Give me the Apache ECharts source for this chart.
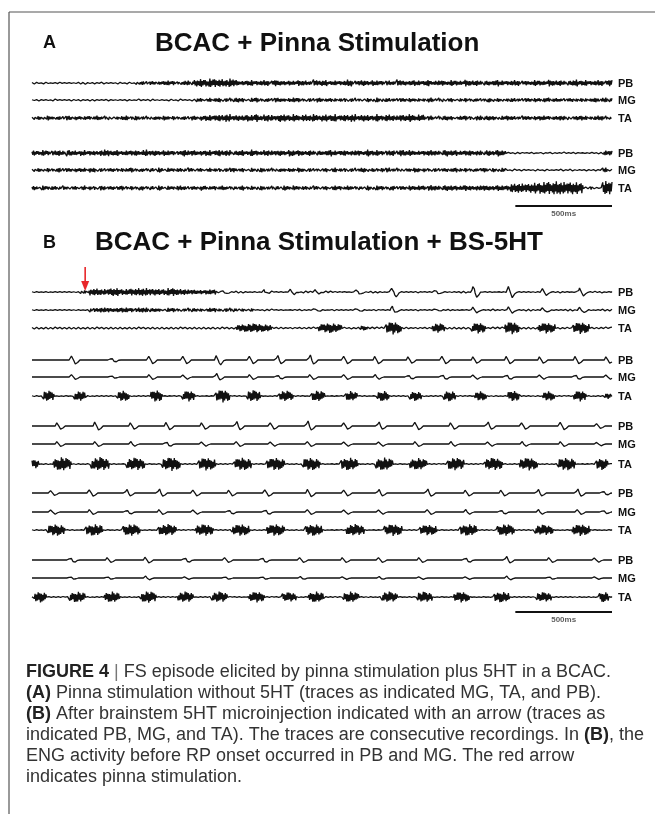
<!DOCTYPE html>
<html>
<head>
<meta charset="utf-8">
<script src="https://cdn.jsdelivr.net/npm/echarts/dist/echarts.min.js"></script>
<style>
  html, body { margin: 0; padding: 0; background: #fff; }
  #chart { width: 655px; height: 814px; }
</style>
</head>
<body>
<div id="chart"></div>
<script>
// ---------------------------------------------------------------------------
// Recording window (ms) shared by all nerve traces, scale bar and stimulus time
// ---------------------------------------------------------------------------
const TIME_MAX = 3000;
const SCALE_BAR_MS = 500;
const STIM_ARROW_MS = 275;

// ---------------------------------------------------------------------------
// Panel A: ENG envelope per time bin (one base-36 character per bin,
// amplitude in half-pixel units). Bin width = TIME_MAX / string length.
// ---------------------------------------------------------------------------
const A1_PB = "2121121112312121121213" + "43434543454" + "787988797" +
  "4564564754546547564545745646545475465474564654756454754564546547564575645647".slice(0, 78);
const A1_MG = "1211211121212112111211212111212112" + "43435344543453435434543435" +
  "343343433435343343433353434334343353433433434353433434335354";
const A1_TA = "34353435343435343345353434353434353" +
  "5657685657685765876857685768576857658576576857" +
  "453454345435454345435434543454345434543";
const A2_PB = "5464564754645467564556475646544756456475645647546556475646454754645647" +
  "5645647564456547564564546475" + "21211212121121211212" + "55";
const A2_MG = "3434353434435343434353434353434353434343453434353434343534334353434353434534343" +
  "5343434353434353434" + "12121121211212112121" + "52";
const A2_TA = "43534353435343534353435343534354343534353435343534435353435343543534353543534354" +
  "5465465546545654655" + "9a99abcdcedcdcb" + "2321" + "ee";

// ---------------------------------------------------------------------------
// Panel B: background ENG envelopes (50 ms bins)
// ---------------------------------------------------------------------------
const B1_PB = "111113" + "7686787686" + "545" + "21211211121211112111211112111121111211121";
const B1_MG = "111111" + "45454543434343433" + "1211211121112111211121112111211121112";
const B1_TA = "222222222222222222222222222222222222222222222222222222222222";
const B_PB_QUIET = "000000000000000000000000000000000000000000000000000000000000";
const B_MG_QUIET = "000000000000000000000000000000000000000000000000000000000000";
const B_TA_QUIET = "111111111111111111111111111111111111111111111111111111111111";

// Slow biphasic deflections on PB / MG: [time ms, amplitude]
const B1_PB_SPIKES = [[981,4],[1194,3],[1329,5],[1458,4],[1671,6],[1858,10],[2081,5],[2278,12],[2460,12],[2637,8],[2829,9]];
const B1_MG_SPIKES = [[1458,3],[1671,3],[1858,7],[2081,3],[2278,6],[2460,7],[2637,5],[2829,6]];
const B2_PB_SPIKES = [[202,10],[405,5],[602,9],[778,9],[950,11],[1121,9],[1266,9],[1432,10],[1609,9],[1770,9],[1941,8],[2118,9],[2278,8],[2450,9],[2621,8],[2803,9],[2964,8]];
const B2_MG_SPIKES = [[202,6],[405,3],[602,6],[778,5],[950,7],[1121,6],[1266,5],[1432,6],[1609,6],[1770,5],[1941,5],[2118,6],[2278,5],[2450,6],[2621,5],[2803,6],[2964,5]];
const B3_PB_SPIKES = [[125,8],[322,10],[503,8],[690,9],[872,8],[1054,9],[1230,8],[1422,10],[1609,8],[1790,8],[1977,9],[2159,8],[2351,8],[2527,8],[2730,9],[2917,6]];
const B3_MG_SPIKES = [[125,6],[322,6],[503,5],[690,6],[872,5],[1054,6],[1230,5],[1422,6],[1609,5],[1790,5],[1977,6],[2159,5],[2351,5],[2527,5],[2730,6],[2917,4]];
const B4_PB_SPIKES = [[93,6],[291,8],[483,7],[654,8],[830,7],[1012,7],[1199,8],[1422,9],[1609,7],[1790,7],[2040,8],[2237,7],[2419,7],[2611,7],[2818,8],[2948,5]];
const B4_MG_SPIKES = [[93,5],[291,6],[483,5],[654,6],[830,5],[1012,5],[1199,6],[1422,6],[1609,5],[1790,5],[2040,6],[2237,5],[2419,5],[2611,5],[2818,6],[2948,4]];
const B5_PB_SPIKES = [[192,6],[384,6],[581,7],[784,6],[991,6],[1183,6],[1381,6],[1599,6],[1790,6],[1998,6],[2237,6],[2450,7],[2668,6],[2906,5]];
const B5_MG_SPIKES = [[192,3],[384,3],[581,4],[784,3],[991,3],[1183,3],[1381,3],[1599,3],[1790,3],[1998,3],[2237,3],[2450,4],[2668,3],[2906,3]];

// TA bursts: [centre ms, amplitude, half-width ms]
const B1_TA_BURSTS = [[1147,9,90],[1541,10,60],[1713,5,20],[1868,13,40],[2102,10,30],[2310,11,36],[2481,13,36],[2662,11,42],[2839,12,42]];
const B2_TA_BURSTS = [[83,11,30],[249,10,30],[472,11,30],[644,12,30],[810,11,30],[986,13,35],[1147,12,35],[1313,11,35],[1479,11,35],[1650,10,30],[1817,11,30],[1983,10,30],[2159,11,30],[2320,10,30],[2491,11,30],[2673,10,30],[2834,11,30],[2979,6,15]];
const B3_TA_BURSTS = [[15,9,20],[156,14,45],[353,14,45],[535,13,45],[721,14,45],[903,13,45],[1090,13,45],[1261,13,45],[1443,13,45],[1640,13,45],[1822,13,45],[1998,12,45],[2190,13,45],[2387,13,45],[2569,13,45],[2766,13,45],[2948,12,30]];
const B4_TA_BURSTS = [[125,12,45],[322,12,45],[514,12,45],[701,12,45],[892,12,45],[1080,12,45],[1261,12,45],[1458,12,45],[1671,12,45],[1868,12,45],[2050,11,45],[2258,12,45],[2450,12,45],[2647,11,45],[2839,12,45]];
const B5_TA_BURSTS = [[42,11,30],[234,11,40],[415,11,40],[602,12,40],[794,11,40],[970,11,40],[1163,11,40],[1329,10,35],[1469,11,40],[1650,11,40],[1848,11,40],[2029,11,40],[2221,11,40],[2429,11,40],[2647,10,40],[2958,11,25]];

// Trace tables (name, envelope, deflections, bursts)
const PANEL_A = [
  ['PB', A1_PB, [], []], ['MG', A1_MG, [], []], ['TA', A1_TA, [], []],
  ['PB', A2_PB, [], []], ['MG', A2_MG, [], []], ['TA', A2_TA, [], []]
];
const PANEL_B = [
  ['PB', B1_PB, B1_PB_SPIKES, []], ['MG', B1_MG, B1_MG_SPIKES, []], ['TA', B1_TA, [], B1_TA_BURSTS],
  ['PB', B_PB_QUIET, B2_PB_SPIKES, []], ['MG', B_MG_QUIET, B2_MG_SPIKES, []], ['TA', B_TA_QUIET, [], B2_TA_BURSTS],
  ['PB', B_PB_QUIET, B3_PB_SPIKES, []], ['MG', B_MG_QUIET, B3_MG_SPIKES, []], ['TA', B_TA_QUIET, [], B3_TA_BURSTS],
  ['PB', B_PB_QUIET, B4_PB_SPIKES, []], ['MG', B_MG_QUIET, B4_MG_SPIKES, []], ['TA', B_TA_QUIET, [], B4_TA_BURSTS],
  ['PB', B_PB_QUIET, B5_PB_SPIKES, []], ['MG', B_MG_QUIET, B5_MG_SPIKES, []], ['TA', B_TA_QUIET, [], B5_TA_BURSTS]
];

// ---------------------------------------------------------------------------
// Layout and drawing style
// ---------------------------------------------------------------------------
const W = 655;
const PLOT_LEFT = 32, PLOT_RIGHT = 612;
const A_ROWS = [83, 100, 118, 153, 170, 188];
const B_ROWS = [292, 310, 328, 360, 377, 396, 426, 444, 464, 493, 512, 530, 560, 578, 597];
const SCALE_ROWS = [206, 612];
const ROW_H = 40;          // px per grid, y extent +-40 units (half pixels)
const STEP = 4;            // ms between drawn samples
// Stroke textures used to draw ENG noise, unit deflections and bursts
const NOISE_TEXTURE = [0.5, -0.7, 0.95, -1, 0.45, -0.6, 0.7, -0.45, 0.85, -0.95, 0.5, -0.65, 0.4,
  -0.8, 1, -0.85, 0.5, -0.55, 0.75, -0.45, 0.9, -1, 0.65, -0.5, 0.45, -0.75, 0.8, -0.9, 0.55, -0.5,
  0.95, -0.8, 0.45, -0.65, 0.6, -0.95, 0.8, -0.55, 0.4, -0.85, 1, -0.7, 0.55, -0.45, 0.75, -0.9,
  0.65, -0.5, 0.85, -0.7, 0.45, -0.95, 0.7, -0.6];
const SPIKE_SHAPE = [0.4, 0.8, 1.0, 0.5, -0.1, -0.5, -0.8, -0.9, -0.7, -0.5, -0.3, -0.1];
const BURST_TEXTURE = [1, 0.6, 0.9, 0.45, 0.8, 1, 0.55, 0.75, 0.95, 0.5, 0.7];
const INK = '#111';
const FF = "'Liberation Sans', Arial, Helvetica, sans-serif";

function buildTrace(env, spikes, bursts) {
  const n = Math.round(TIME_MAX / STEP);
  const binW = TIME_MAX / env.length;
  const pts = [];
  for (let i = 0; i <= n; i++) {
    const t = i * STEP;
    const bin = Math.min(env.length - 1, Math.floor(t / binW));
    let v = parseInt(env[bin], 36) * NOISE_TEXTURE[i % NOISE_TEXTURE.length];
    for (const [c, amp, hw] of bursts) {
      const d = Math.abs(t - c);
      if (d <= hw) {
        const k = amp * BURST_TEXTURE[i % BURST_TEXTURE.length] * (1 - 0.35 * d / hw);
        if (k > Math.abs(v)) v = (i % 2 === 0 ? 1 : -1) * k;
      }
    }
    for (const [c, amp] of spikes) {
      const k = Math.round((t - c) / STEP);
      if (k >= 0 && k < SPIKE_SHAPE.length) v += amp * SPIKE_SHAPE[k];
    }
    pts.push([t, v]);
  }
  return pts;
}

const grids = [], xAxes = [], yAxes = [], series = [];
const rows = [];
PANEL_A.forEach((tr, i) => rows.push({ tr, y: A_ROWS[i] }));
PANEL_B.forEach((tr, i) => rows.push({ tr, y: B_ROWS[i] }));

function addGrid(y) {
  const idx = grids.length;
  grids.push({ left: PLOT_LEFT, right: W - PLOT_RIGHT, top: y - ROW_H / 2, height: ROW_H, containLabel: false });
  xAxes.push({ gridIndex: idx, type: 'value', min: 0, max: TIME_MAX, show: false });
  yAxes.push({ gridIndex: idx, type: 'value', min: -ROW_H, max: ROW_H, show: false });
  return idx;
}

rows.forEach(({ tr, y }) => {
  const idx = addGrid(y);
  series.push({
    type: 'line', name: tr[0], xAxisIndex: idx, yAxisIndex: idx,
    data: buildTrace(tr[1], tr[2], tr[3]),
    symbol: 'none', silent: true, clip: false,
    lineStyle: { color: INK, width: 1.3 }
  });
});

// Scale bars (500 ms) under each panel
SCALE_ROWS.forEach((y) => {
  const idx = addGrid(y);
  series.push({
    type: 'line', xAxisIndex: idx, yAxisIndex: idx,
    data: [[TIME_MAX - SCALE_BAR_MS, 0], [TIME_MAX, 0]],
    symbol: 'none', silent: true, lineStyle: { color: INK, width: 2 }
  });
  series.push({
    type: 'scatter', xAxisIndex: idx, yAxisIndex: idx,
    data: [[TIME_MAX - SCALE_BAR_MS / 2, 0]], symbolSize: 0, silent: true,
    label: { show: true, position: 'bottom', distance: 4, formatter: SCALE_BAR_MS + 'ms',
             fontFamily: FF, fontSize: 8, fontWeight: 'bold', color: '#333' }
  });
});

const chart = echarts.init(document.getElementById('chart'), null, { renderer: 'canvas' });
chart.setOption({ animation: false, grid: grids, xAxis: xAxes, yAxis: yAxes, series: series });

// ---------------------------------------------------------------------------
// Text, frame, trace names and stimulus arrow
// ---------------------------------------------------------------------------
const g = [];
g.push({ type: 'line', silent: true, shape: { x1: 9, y1: 12, x2: W, y2: 12 }, style: { stroke: '#555', lineWidth: 1.2 } });
g.push({ type: 'line', silent: true, shape: { x1: 9, y1: 12, x2: 9, y2: 814 }, style: { stroke: '#555', lineWidth: 1.2 } });

function txt(x, y, text, size, weight, align, fill) {
  return { type: 'text', silent: true, x: x, y: y,
    style: { text: text, fontFamily: FF, fontSize: size, fontWeight: weight || 'normal',
             fill: fill || INK, align: align || 'left', verticalAlign: 'middle' } };
}
g.push(txt(43, 43, 'A', 18, 'bold'));
g.push(txt(155, 44, 'BCAC + Pinna Stimulation', 26, 'bold'));
g.push(txt(43, 243, 'B', 18, 'bold'));
g.push(txt(95, 243, 'BCAC + Pinna Stimulation + BS-5HT', 26, 'bold'));

rows.forEach(({ tr }, i) => {
  const p = chart.convertToPixel({ gridIndex: i }, [TIME_MAX, 0]);
  g.push(txt(p[0] + 6, p[1] + 1, tr[0], 11, 'bold', 'left'));
});

// Stimulus arrow above the first PB trace of panel B
const stimRow = PANEL_A.length;
const sp = chart.convertToPixel({ gridIndex: stimRow }, [STIM_ARROW_MS, 0]);
g.push({ type: 'line', silent: true, shape: { x1: sp[0], y1: sp[1] - 25, x2: sp[0], y2: sp[1] - 9 },
         style: { stroke: '#e8262a', lineWidth: 1.6 } });
g.push({ type: 'polygon', silent: true,
         shape: { points: [[sp[0] - 4, sp[1] - 11], [sp[0] + 4, sp[1] - 11], [sp[0], sp[1] - 1]] },
         style: { fill: '#e8262a' } });

// Caption
const CAP_FS = 18;
const rich = {
  b: { fontFamily: FF, fontSize: CAP_FS, fontWeight: 'bold', fill: '#222' },
  n: { fontFamily: FF, fontSize: CAP_FS, fill: '#333' },
  s: { fontFamily: FF, fontSize: CAP_FS, fill: '#777' }
};
const captionLines = [
  '{b|FIGURE 4}{s| | }{n|FS episode elicited by pinna stimulation plus 5HT in a BCAC.}',
  '{b|(A)}{n| Pinna stimulation without 5HT (traces as indicated MG, TA, and PB).}',
  '{b|(B)}{n| After brainstem 5HT microinjection indicated with an arrow (traces as}',
  '{n|indicated PB, MG, and TA). The traces are consecutive recordings. In }{b|(B)}{n|, the}',
  '{n|ENG activity before RP onset occurred in PB and MG. The red arrow}',
  '{n|indicates pinna stimulation.}'
];
captionLines.forEach((line, k) => {
  g.push({ type: 'text', silent: true, x: 26, y: 672 + k * 21,
    style: { text: line, rich: rich, fontFamily: FF, fontSize: CAP_FS, fill: '#333',
             align: 'left', verticalAlign: 'middle' } });
});

chart.setOption({ graphic: g });
</script>
</body>
</html>
